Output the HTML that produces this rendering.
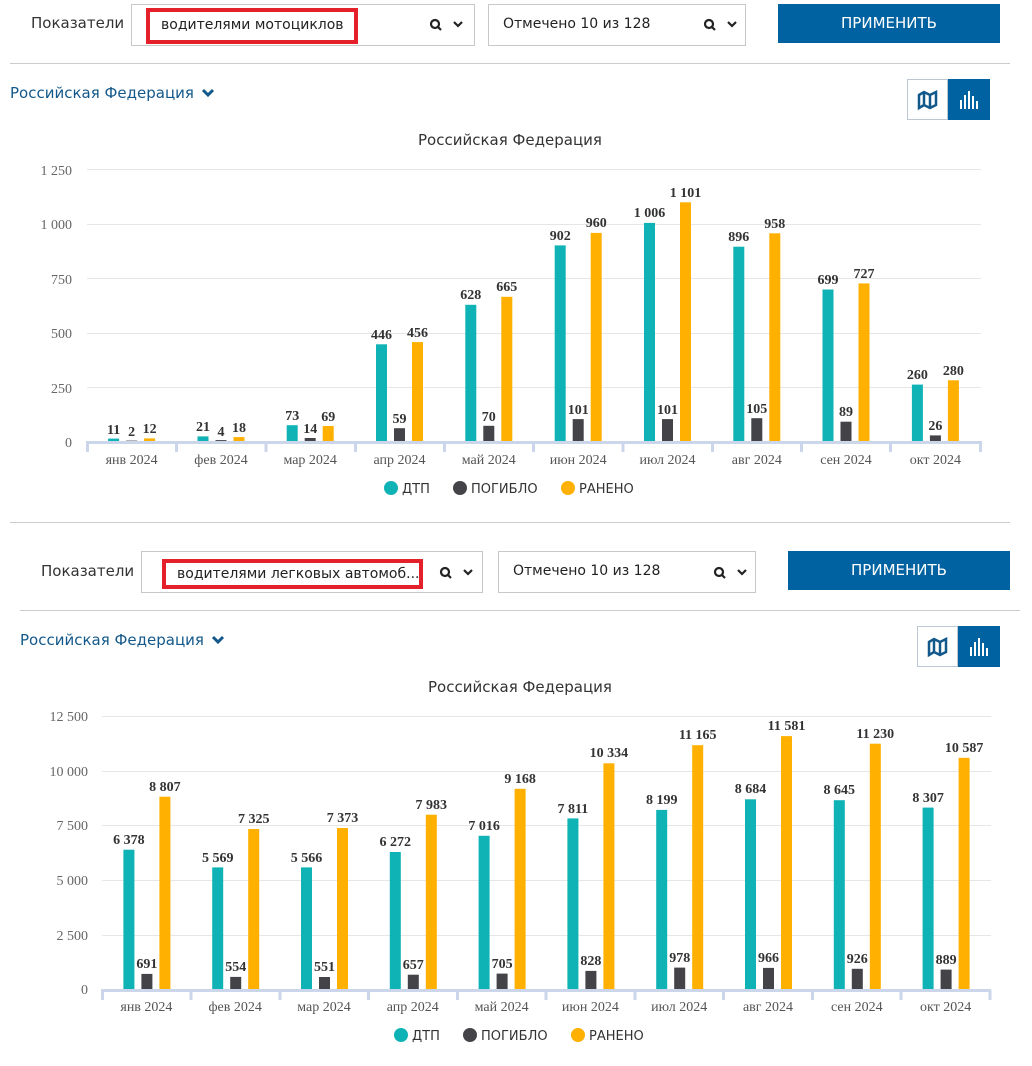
<!DOCTYPE html>
<html><head><meta charset="utf-8"><style>
body{margin:0;width:1032px;height:1066px;background:#fff;position:relative;overflow:hidden;font-family:"DejaVu Sans","Liberation Sans",sans-serif;}
.a{position:absolute}
.lbl{font-size:15px;color:#333}
.box{border:1px solid #c8c8c8;background:#fff;box-sizing:border-box}
.red{border:4px solid #e4202a;box-sizing:border-box;font-size:14px;color:#222;padding-left:11px;line-height:27px;white-space:nowrap;overflow:hidden}
.btn{background:#0062a0;color:#fff;font-size:15px;text-align:center}
.hr{height:1px;background:#ccc}
.link{color:#13588a;font-size:15px}
</style></head><body>

<div class="a lbl" style="left:31px;top:14px">Показатели</div>
<div class="a box" style="left:131px;top:4px;width:344px;height:42px"></div>
<div class="a red" style="left:146px;top:8px;width:212px;height:36px">водителями мотоциклов</div>
<div class="a box" style="left:488px;top:4px;width:258px;height:42px"></div>
<div class="a" style="left:503px;top:16px;font-size:14px;color:#222">Отмечено 10 из 128</div>
<div class="a btn" style="left:778px;top:4px;width:222px;height:39px;line-height:39px">ПРИМЕНИТЬ</div>
<div class="a hr" style="left:10px;top:63px;width:1000px"></div>
<div class="a link" style="left:10px;top:84px">Российская Федерация</div>
<div class="a box" style="left:907px;top:79px;width:41px;height:41px;border-color:#bcc7d2"></div>
<div class="a" style="left:948px;top:79px;width:42px;height:41px;background:#0062a0"></div>

<div class="a lbl" style="left:41px;top:562px">Показатели</div>
<div class="a box" style="left:141px;top:551px;width:342px;height:42px"></div>
<div class="a red" style="left:162px;top:559px;width:261px;height:30px;line-height:22px">водителями легковых автомоб...</div>
<div class="a box" style="left:498px;top:551px;width:258px;height:42px"></div>
<div class="a" style="left:513px;top:563px;font-size:14px;color:#222">Отмечено 10 из 128</div>
<div class="a btn" style="left:788px;top:551px;width:222px;height:39px;line-height:39px">ПРИМЕНИТЬ</div>
<div class="a hr" style="left:10px;top:522px;width:1000px"></div>
<div class="a hr" style="left:20px;top:610px;width:1000px"></div>
<div class="a link" style="left:20px;top:631px">Российская Федерация</div>
<div class="a box" style="left:917px;top:626px;width:41px;height:41px;border-color:#bcc7d2"></div>
<div class="a" style="left:958px;top:626px;width:42px;height:41px;background:#0062a0"></div>

<svg class="a" style="left:0;top:0" width="1032" height="1066">
<!-- search + chevrons -->
<g fill="none" stroke="#222" stroke-width="2.2">
<circle cx="435" cy="24" r="4"/><path d="M438 27l3 3"/><path d="M454 22l4 4 4-4"/>
<circle cx="709" cy="24" r="4"/><path d="M712 27l3 3"/><path d="M728 22l4 4 4-4"/>
<circle cx="445" cy="572" r="4"/><path d="M448 575l3 3"/><path d="M464 570l4 4 4-4"/>
<circle cx="719" cy="572" r="4"/><path d="M722 575l3 3"/><path d="M738 570l4 4 4-4"/>
</g>
<g fill="none" stroke="#13588a" stroke-width="3">
<path d="M203 90l5 5 5-5"/><path d="M213 637l5 5 5-5"/>
</g>
<g fill="none" stroke="#13588a" stroke-width="2.5">
<path d="M919 95 l5-3 6 3 6-3 v13 l-6 3-6-3-5 3z M924 92v13 M930 95v13"/>
<path d="M929 642 l5-3 6 3 6-3 v13 l-6 3-6-3-5 3z M934 639v13 M940 642v13"/>
</g>
<g fill="#fff">
<rect x="960" y="100" width="2" height="9"/><rect x="964" y="95" width="2" height="14"/><rect x="968" y="91" width="2" height="18"/><rect x="972" y="96" width="2" height="13"/><rect x="976" y="101" width="2" height="8"/>
<rect x="970" y="647" width="2" height="9"/><rect x="974" y="642" width="2" height="14"/><rect x="978" y="638" width="2" height="18"/><rect x="982" y="643" width="2" height="13"/><rect x="986" y="648" width="2" height="8"/>
</g>

<!-- chart 1 -->
<text x="510" y="145" text-anchor="middle" font-size="15" fill="#333">Российская Федерация</text>
<g stroke="#e6e6e6"><path d="M87 169.5H981M87 224.5H981M87 278.5H981M87 333.5H981M87 387.5H981"/></g>
<g font-family="Liberation Serif,serif" font-size="14" fill="#666" text-anchor="end">
<text x="72" y="175">1 250</text><text x="72" y="229">1 000</text><text x="72" y="284">750</text><text x="72" y="338">500</text><text x="72" y="393">250</text><text x="72" y="447">0</text></g>
<g fill="#0fb3b5"><rect x="108.1" y="438.6" width="11" height="2.4"/><rect x="197.5" y="436.4" width="11" height="4.6"/><rect x="286.7" y="425.2" width="11" height="15.8"/><rect x="376" y="344.3" width="11" height="96.7"/><rect x="465.3" y="304.8" width="11" height="136.2"/><rect x="554.7" y="245.4" width="11" height="195.6"/><rect x="644" y="222.9" width="11" height="218.1"/><rect x="733.3" y="246.7" width="11" height="194.3"/><rect x="822.5" y="289.5" width="11" height="151.5"/><rect x="911.9" y="384.6" width="11" height="56.4"/></g>
<g fill="#434348"><rect x="126.1" y="440.6" width="11" height="0.4"/><rect x="215.5" y="440.1" width="11" height="0.9"/><rect x="304.7" y="438" width="11" height="3"/><rect x="394" y="428.2" width="11" height="12.8"/><rect x="483.3" y="425.8" width="11" height="15.2"/><rect x="572.7" y="419.1" width="11" height="21.9"/><rect x="662" y="419.1" width="11" height="21.9"/><rect x="751.3" y="418.2" width="11" height="22.8"/><rect x="840.5" y="421.7" width="11" height="19.3"/><rect x="929.9" y="435.4" width="11" height="5.6"/></g>
<g fill="#ffb000"><rect x="144.1" y="438.4" width="11" height="2.6"/><rect x="233.5" y="437.1" width="11" height="3.9"/><rect x="322.7" y="426" width="11" height="15"/><rect x="412" y="342.1" width="11" height="98.9"/><rect x="501.3" y="296.8" width="11" height="144.2"/><rect x="590.7" y="232.9" width="11" height="208.1"/><rect x="680" y="202.3" width="11" height="238.7"/><rect x="769.3" y="233.3" width="11" height="207.7"/><rect x="858.5" y="283.4" width="11" height="157.6"/><rect x="947.9" y="380.3" width="11" height="60.7"/></g>
<g font-family="Liberation Serif,serif" font-weight="bold" font-size="14" fill="#333" text-anchor="middle">
<text x="113.6" y="434">11</text><text x="131.6" y="436">2</text><text x="149.6" y="433">12</text>
<text x="203" y="431">21</text><text x="221" y="436">4</text><text x="239" y="432">18</text>
<text x="292.2" y="420">73</text><text x="310.2" y="433">14</text><text x="328.2" y="421">69</text>
<text x="381.5" y="339">446</text><text x="399.5" y="423">59</text><text x="417.5" y="337">456</text>
<text x="470.8" y="299">628</text><text x="488.8" y="421">70</text><text x="506.8" y="291">665</text>
<text x="560.2" y="240">902</text><text x="578.2" y="414">101</text><text x="596.2" y="227">960</text>
<text x="649.5" y="217">1 006</text><text x="667.5" y="414">101</text><text x="685.5" y="197">1 101</text>
<text x="738.8" y="241">896</text><text x="756.8" y="413">105</text><text x="774.8" y="228">958</text>
<text x="828" y="284">699</text><text x="846" y="416">89</text><text x="864" y="278">727</text>
<text x="917.4" y="379">260</text><text x="935.4" y="430">26</text><text x="953.4" y="375">280</text></g>
<g stroke="#ccd6eb" stroke-width="3"><path d="M86 442.5H982"/><path d="M87.5 442v10M176.5 442v10M266 442v10M355.5 442v10M444.5 442v10M533.5 442v10M623 442v10M712.5 442v10M801.5 442v10M890.5 442v10M980.5 442v10"/></g>
<g font-family="Liberation Serif,serif" font-size="14" fill="#555" text-anchor="middle">
<text x="131.6" y="464">янв 2024</text><text x="221" y="464">фев 2024</text><text x="310.2" y="464">мар 2024</text><text x="399.5" y="464">апр 2024</text><text x="488.8" y="464">май 2024</text><text x="578.2" y="464">июн 2024</text><text x="667.5" y="464">июл 2024</text><text x="756.8" y="464">авг 2024</text><text x="846" y="464">сен 2024</text><text x="935.4" y="464">окт 2024</text></g>
<circle cx="391" cy="488" r="7" fill="#0fb3b5"/><circle cx="460" cy="488" r="7" fill="#434348"/><circle cx="568" cy="488" r="7" fill="#ffb000"/>
<g font-size="13" fill="#333"><text x="402" y="493">ДТП</text><text x="471" y="493">ПОГИБЛО</text><text x="579" y="493">РАНЕНО</text></g>

<!-- chart 2 -->
<text x="520" y="692" text-anchor="middle" font-size="15" fill="#333">Российская Федерация</text>
<g stroke="#e6e6e6"><path d="M102 716.5H991M102 771.5H991M102 825.5H991M102 880.5H991M102 935.5H991"/></g>
<g font-family="Liberation Serif,serif" font-size="14" fill="#666" text-anchor="end">
<text x="88" y="721">12 500</text><text x="88" y="776">10 000</text><text x="88" y="830">7 500</text><text x="88" y="885">5 000</text><text x="88" y="940">2 500</text><text x="88" y="994">0</text></g>
<g fill="#0fb3b5"><rect x="123.4" y="849.7" width="11" height="139.3"/><rect x="212.2" y="867.4" width="11" height="121.6"/><rect x="301" y="867.4" width="11" height="121.6"/><rect x="389.8" y="852" width="11" height="137"/><rect x="478.6" y="835.8" width="11" height="153.2"/><rect x="567.4" y="818.4" width="11" height="170.6"/><rect x="656.2" y="809.9" width="11" height="179.1"/><rect x="745" y="799.3" width="11" height="189.7"/><rect x="833.8" y="800.2" width="11" height="188.8"/><rect x="922.6" y="807.6" width="11" height="181.4"/></g>
<g fill="#434348"><rect x="141.4" y="973.9" width="11" height="15.1"/><rect x="230.2" y="976.9" width="11" height="12.1"/><rect x="319" y="977" width="11" height="12"/><rect x="407.8" y="974.7" width="11" height="14.3"/><rect x="496.6" y="973.6" width="11" height="15.4"/><rect x="585.4" y="970.9" width="11" height="18.1"/><rect x="674.2" y="967.6" width="11" height="21.4"/><rect x="763" y="967.9" width="11" height="21.1"/><rect x="851.8" y="968.8" width="11" height="20.2"/><rect x="940.6" y="969.6" width="11" height="19.4"/></g>
<g fill="#ffb000"><rect x="159.4" y="796.7" width="11" height="192.3"/><rect x="248.2" y="829" width="11" height="160"/><rect x="337" y="828" width="11" height="161"/><rect x="425.8" y="814.7" width="11" height="174.3"/><rect x="514.6" y="788.8" width="11" height="200.2"/><rect x="603.4" y="763.3" width="11" height="225.7"/><rect x="692.2" y="745.2" width="11" height="243.8"/><rect x="781" y="736.1" width="11" height="252.9"/><rect x="869.8" y="743.7" width="11" height="245.3"/><rect x="958.6" y="757.8" width="11" height="231.2"/></g>
<g font-family="Liberation Serif,serif" font-weight="bold" font-size="14" fill="#333" text-anchor="middle">
<text x="128.9" y="844">6 378</text><text x="146.9" y="968">691</text><text x="164.9" y="791">8 807</text>
<text x="217.7" y="862">5 569</text><text x="235.7" y="971">554</text><text x="253.7" y="823">7 325</text>
<text x="306.5" y="862">5 566</text><text x="324.5" y="971">551</text><text x="342.5" y="822">7 373</text>
<text x="395.3" y="846">6 272</text><text x="413.3" y="969">657</text><text x="431.3" y="809">7 983</text>
<text x="484.1" y="830">7 016</text><text x="502.1" y="968">705</text><text x="520.1" y="783">9 168</text>
<text x="572.9" y="813">7 811</text><text x="590.9" y="965">828</text><text x="608.9" y="757">10 334</text>
<text x="661.7" y="804">8 199</text><text x="679.7" y="962">978</text><text x="697.7" y="739">11 165</text>
<text x="750.5" y="793">8 684</text><text x="768.5" y="962">966</text><text x="786.5" y="730">11 581</text>
<text x="839.3" y="794">8 645</text><text x="857.3" y="963">926</text><text x="875.3" y="738">11 230</text>
<text x="928.1" y="802">8 307</text><text x="946.1" y="964">889</text><text x="964.1" y="752">10 587</text></g>
<g stroke="#ccd6eb" stroke-width="3"><path d="M101 990.5H991"/><path d="M102.5 990v10M191 990v10M280 990v10M368.5 990v10M457.5 990v10M546 990v10M635 990v10M723.5 990v10M812.5 990v10M901 990v10M990 990v10"/></g>
<g font-family="Liberation Serif,serif" font-size="14" fill="#555" text-anchor="middle">
<text x="146.4" y="1011">янв 2024</text><text x="235.2" y="1011">фев 2024</text><text x="324" y="1011">мар 2024</text><text x="412.8" y="1011">апр 2024</text><text x="501.6" y="1011">май 2024</text><text x="590.4" y="1011">июн 2024</text><text x="679.2" y="1011">июл 2024</text><text x="768" y="1011">авг 2024</text><text x="856.8" y="1011">сен 2024</text><text x="945.6" y="1011">окт 2024</text></g>
<circle cx="401" cy="1035" r="7" fill="#0fb3b5"/><circle cx="470" cy="1035" r="7" fill="#434348"/><circle cx="578" cy="1035" r="7" fill="#ffb000"/>
<g font-size="13" fill="#333"><text x="412" y="1040">ДТП</text><text x="481" y="1040">ПОГИБЛО</text><text x="589" y="1040">РАНЕНО</text></g>
</svg>
</body></html>
